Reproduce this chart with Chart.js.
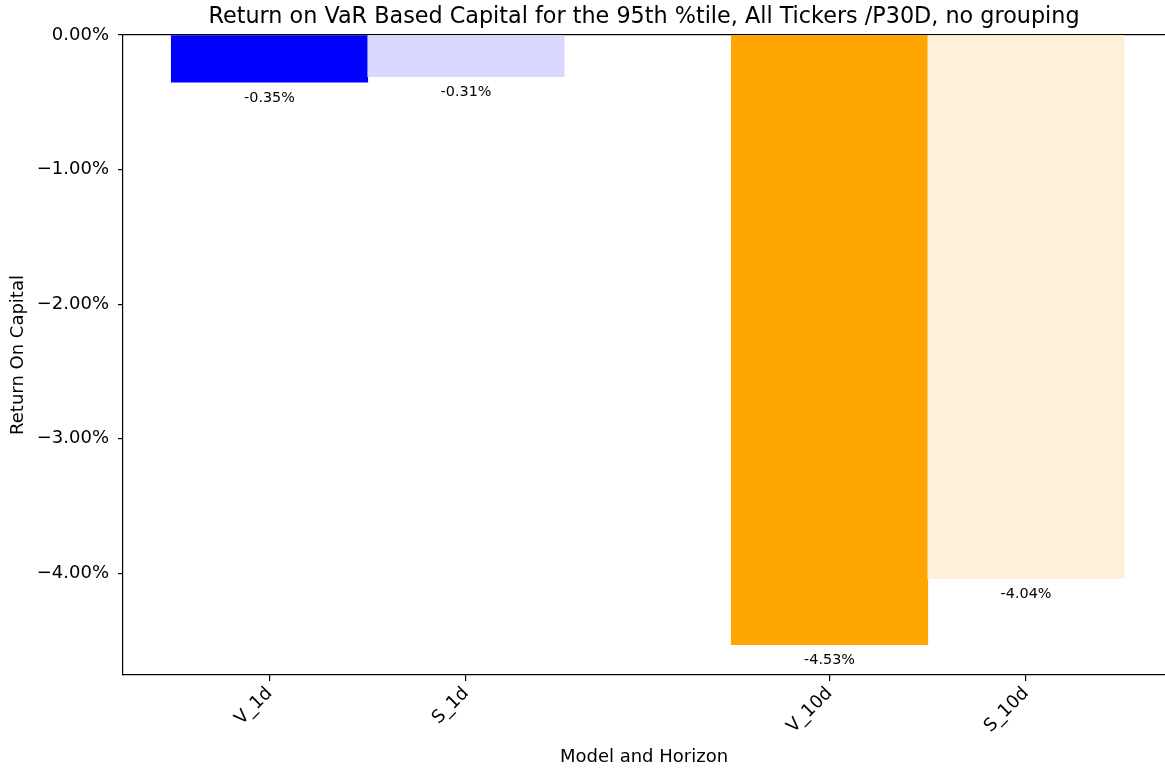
<!DOCTYPE html>
<html>
<head>
<meta charset="utf-8">
<script src="https://cdn.jsdelivr.net/npm/chart.js@4/dist/chart.umd.min.js"></script>
<style>
  body { margin: 0; background: #fff; }
  #wrap { width: 1165px; height: 769px; }
</style>
</head>
<body>
<div id="wrap"><canvas id="chart" width="1165" height="769"></canvas></div>
<script>
// Data
const labels = ["V_1d", "S_1d", "V_10d", "S_10d"];
const barPos = [0, 1, 2.85, 3.85];           // bar centres, in bar widths
const values = [-0.35, -0.31, -4.53, -4.04]; // return on capital, %
const colors = ["#0000ff", "#d9d9ff", "#ffa500", "#fff0d9"];
const yTicks = [0, -1, -2, -3, -4];
const title = "Return on VaR Based Capital for the 95th %tile, All Tickers /P30D, no grouping";

const FONT = '"DejaVu Sans", sans-serif';
const X_MIN = -0.7455, X_MAX = 4.557;

// value labels under each bar
const valueLabels = {
  id: "valueLabels",
  afterDatasetsDraw(chart) {
    const { ctx } = chart;
    const meta = chart.getDatasetMeta(0);
    ctx.save();
    ctx.font = "14.4px " + FONT;
    ctx.fillStyle = "#000";
    ctx.textAlign = "center";
    ctx.textBaseline = "middle";
    meta.data.forEach((bar, i) => {
      ctx.fillText(values[i].toFixed(2) + "%", bar.x, bar.y + 16);
    });
    ctx.restore();
  }
};

new Chart(document.getElementById("chart"), {
  type: "bar",
  data: {
    datasets: [{
      data: labels.map((l, i) => ({ x: barPos[i], y: values[i] })),
      backgroundColor: colors,
      barPercentage: 1,
      categoryPercentage: 1,
      borderWidth: 0,
    }],
  },
  options: {
    responsive: false,
    animation: false,
    devicePixelRatio: 1,
    plugins: {
      legend: { display: false },
      tooltip: { enabled: false },
    },
    scales: {
      x: {
        type: "linear",
        min: X_MIN,
        max: X_MAX,
        offset: false,
        afterFit: s => { s.height = 94; },
        afterBuildTicks: s => { s.ticks = barPos.map(v => ({ value: v })); },
        ticks: {
          autoSkip: false,
          minRotation: 45,
          maxRotation: 45,
          padding: 2,
          color: "#000",
          font: { family: FONT, size: 18 },
          callback: (v, i) => labels[i],
        },
        grid: { offset: false, drawOnChartArea: false, tickLength: 6, tickColor: "#000", lineWidth: 1.2 },
        border: { display: true, color: "#000", width: 1.2 },
        title: {
          display: true,
          text: "Model and Horizon",
          color: "#000",
          font: { family: FONT, size: 18 },
          padding: { top: 0, bottom: 1 },
        },
      },
      // top spine + chart title, centred on the plot area
      top: {
        type: "linear",
        position: "top",
        min: X_MIN,
        max: X_MAX,
        afterFit: s => { s.height = 35; },
        ticks: { display: false },
        grid: { display: false },
        border: { display: true, color: "#000", width: 1.2 },
        title: {
          display: true,
          text: title,
          color: "#000",
          font: { family: FONT, size: 22.3 },
          padding: { top: 4, bottom: 0 },
        },
      },
      y: {
        min: -4.755,
        max: 0,
        afterFit: s => { s.width = 123; },
        afterBuildTicks: s => { s.ticks = yTicks.map(v => ({ value: v })); },
        ticks: {
          padding: 9,
          color: "#000",
          font: { family: FONT, size: 18 },
          callback: v => (v === 0 ? "0.00%" : "\u2212" + Math.abs(v).toFixed(2) + "%"),
        },
        grid: { drawOnChartArea: false, tickLength: 5, tickColor: "#000", lineWidth: 1.2 },
        border: { display: true, color: "#000", width: 1.2 },
        title: {
          display: true,
          text: "Return On Capital",
          color: "#000",
          font: { family: FONT, size: 18 },
          padding: { top: 8, bottom: 0 },
        },
      },
    },
  },
  plugins: [valueLabels],
});
</script>
</body>
</html>
